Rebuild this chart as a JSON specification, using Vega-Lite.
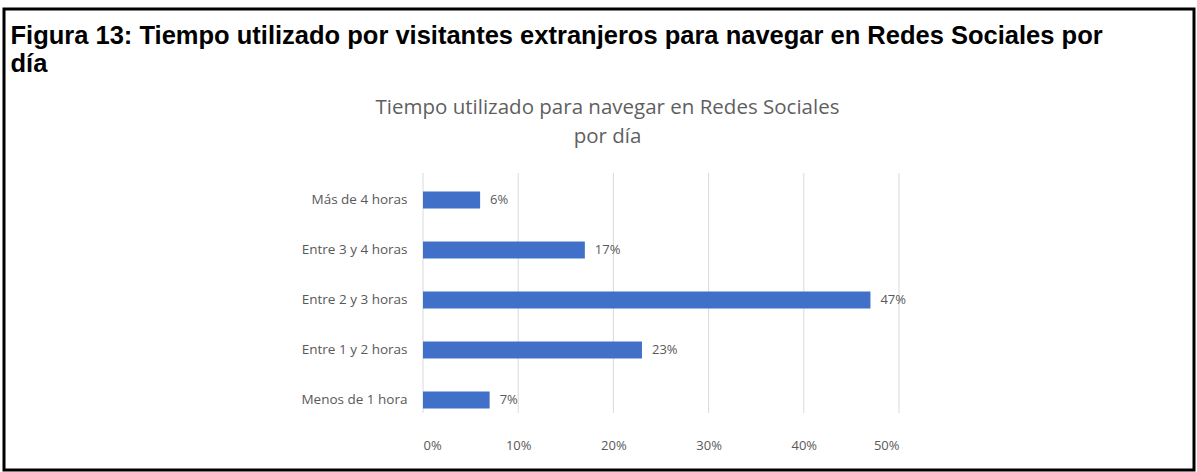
{
  "$schema": "https://vega.github.io/schema/vega-lite/v6.json",
  "width": 1190,
  "height": 461,
  "autosize": {"type": "none"},
  "padding": {"left": 4, "top": 9, "right": 3, "bottom": 2},
  "background": "white",
  "config": {"view": {"stroke": "black", "strokeWidth": 3}},
  "data": {"values": [
    {"cat": "Más de 4 horas", "v": 0.06},
    {"cat": "Entre 3 y 4 horas", "v": 0.17},
    {"cat": "Entre 2 y 3 horas", "v": 0.47},
    {"cat": "Entre 1 y 2 horas", "v": 0.23},
    {"cat": "Menos de 1 hora", "v": 0.07}
  ]},
  "encoding": {
    "y": {
      "field": "cat", "type": "nominal", "sort": null,
      "scale": {
        "domain": ["Más de 4 horas", "Entre 3 y 4 horas", "Entre 2 y 3 horas", "Entre 1 y 2 horas", "Menos de 1 hora"],
        "range": [164, 404], "paddingInner": 0.66, "paddingOuter": 0.23, "align": 0.8
      },
      "axis": {
        "offset": -403, "domain": false, "ticks": false, "tickSize": 0, "labelPadding": 0, "grid": false,
        "labelFont": "Open Sans", "labelFontSize": 13.5, "labelColor": "#595959",
        "title": ["Tiempo utilizado para navegar en Redes Sociales", "por día"],
        "titleAngle": 0, "titleX": 200, "titleY": 104, "titleAlign": "center", "titleBaseline": "alphabetic",
        "titleFont": "Open Sans", "titleFontSize": 20.5, "titleFontWeight": "normal", "titleColor": "#5f5f5f", "titleLineHeight": 29
      }
    },
    "x": {
      "field": "v", "type": "quantitative",
      "scale": {"domain": [0, 0.5], "range": [419, 895], "nice": false, "zero": true},
      "axis": {
        "format": ".0%", "values": [0, 0.1, 0.2, 0.3, 0.4, 0.5], "domain": false, "ticks": false, "tickSize": 0,
        "labelPadding": -25, "labelBaseline": "middle", "grid": false,
        "labelFont": "Open Sans", "labelFontSize": 13, "labelColor": "#595959",
        "title": ["Figura 13: Tiempo utilizado por visitantes extranjeros para navegar en Redes Sociales por", "día"],
        "titleX": 6, "titleY": -427, "titleAlign": "left", "titleAnchor": "start", "titleBaseline": "alphabetic",
        "titleFont": "Liberation Sans", "titleFontSize": 25.5, "titleFontWeight": "bold", "titleColor": "black", "titleLineHeight": 28
      }
    }
  },
  "layer": [
    {
      "data": {"values": [{"t": 0}, {"t": 0.1}, {"t": 0.2}, {"t": 0.3}, {"t": 0.4}, {"t": 0.5}]},
      "mark": {"type": "rule", "color": "#d9d9d9", "strokeWidth": 1, "yOffset": -27, "y2Offset": 13},
      "encoding": {
        "x": {"field": "t", "type": "quantitative"},
        "y": {"datum": "Más de 4 horas", "type": "nominal"},
        "y2": {"datum": "Menos de 1 hora"}
      }
    },
    {"mark": {"type": "bar", "color": "#4070C8"}},
    {
      "mark": {"type": "text", "align": "left", "dx": 10, "font": "Open Sans", "fontSize": 13, "color": "#595959"},
      "encoding": {"text": {"field": "v", "format": ".0%"}}
    }
  ]
}
